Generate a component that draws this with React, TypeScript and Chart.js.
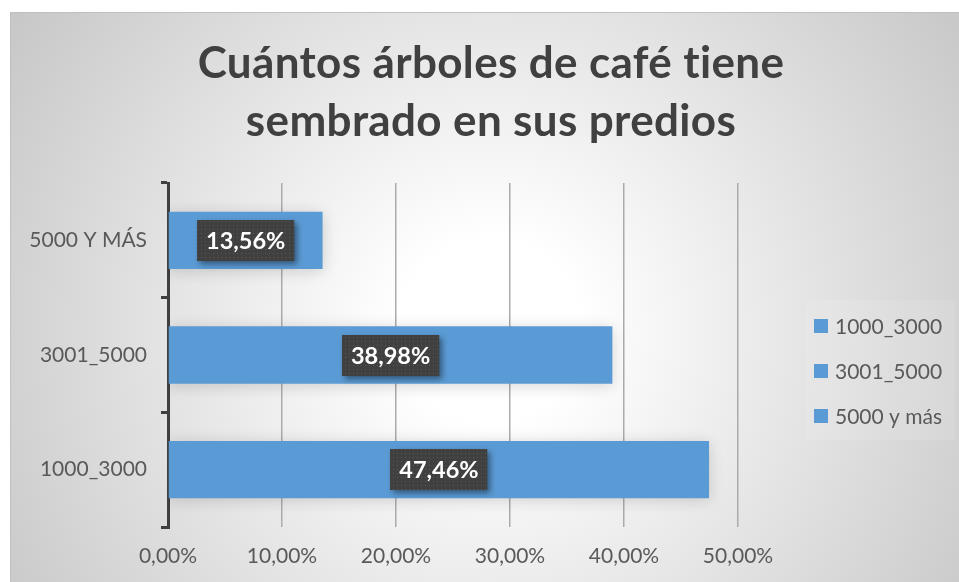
import React, { useEffect, useRef } from "react";
import { Chart, registerables } from "chart.js";

Chart.register(...registerables);

const titleLines = ["Cuántos árboles de café tiene", "sembrado en sus predios"];
const categories = ["5000 Y MÁS", "3001_5000", "1000_3000"];
const values = [13.56, 38.98, 47.46];
const legendLabels = ["1000_3000", "3001_5000", "5000 y más"];
const xTickLabels = ["0,00%", "10,00%", "20,00%", "30,00%", "40,00%", "50,00%"];

const BAR_COLOR = "#5b9bd5";
const TEXT_COLOR = "#595959";
const TITLE_COLOR = "#404040";
const FONT = "Lato, 'Open Sans', sans-serif";

const fmt = (v: number) => v.toFixed(2).replace(".", ",") + "%";

const backgroundPlugin = {
  id: "bgPlugin",
  beforeDraw(chart: any) {
    const ctx = chart.ctx as CanvasRenderingContext2D;
    const W = chart.width;
    const H = chart.height;
    ctx.save();
    ctx.fillStyle = "#ffffff";
    ctx.fillRect(0, 0, W, H);
    const g = ctx.createRadialGradient(490, 330, 0, 490, 330, 600);
    g.addColorStop(0, "#ffffff");
    g.addColorStop(0.15, "#ffffff");
    g.addColorStop(1, "#c4c4c4");
    ctx.fillStyle = g;
    ctx.fillRect(10, 12, W - 10, H - 12);
    ctx.strokeStyle = "#c0c0c0";
    ctx.lineWidth = 1;
    ctx.beginPath();
    ctx.moveTo(10.5, H);
    ctx.lineTo(10.5, 12.5);
    ctx.lineTo(W, 12.5);
    ctx.stroke();
    // title
    ctx.fillStyle = TITLE_COLOR;
    ctx.font = `bold 44px ${FONT}`;
    (ctx as any).letterSpacing = "0.35px";
    ctx.textAlign = "center";
    ctx.textBaseline = "alphabetic";
    ctx.fillText(titleLines[0], 491, 78);
    ctx.fillText(titleLines[1], 491, 136);
    (ctx as any).letterSpacing = "0px";
    // legend
    ctx.fillStyle = "rgba(255,255,255,0.1)";
    ctx.fillRect(806, 300, 149, 140);
    ctx.font = `21px ${FONT}`;
    ctx.textAlign = "left";
    ctx.textBaseline = "middle";
    legendLabels.forEach((lab, i) => {
      const cy = 326 + i * 45;
      ctx.fillStyle = BAR_COLOR;
      ctx.fillRect(814, cy - 7, 14, 14);
      ctx.fillStyle = TEXT_COLOR;
      ctx.fillText(lab, 835, cy + 1);
    });
    ctx.restore();
  },
};

let patternCanvas: HTMLCanvasElement | null = null;
const getPattern = (ctx: CanvasRenderingContext2D) => {
  if (!patternCanvas) {
    patternCanvas = document.createElement("canvas");
    patternCanvas.width = 4;
    patternCanvas.height = 4;
    const p = patternCanvas.getContext("2d")!;
    p.fillStyle = "rgba(255,255,255,0.13)";
    p.fillRect(1, 1, 1, 1);
  }
  return ctx.createPattern(patternCanvas, "repeat");
};

const barEffectsPlugin = {
  id: "barEffects",
  beforeDatasetsDraw(chart: any) {
    const ctx = chart.ctx as CanvasRenderingContext2D;
    ctx.save();
    ctx.shadowColor = "rgba(0,0,0,0.16)";
    ctx.shadowBlur = 14;
    ctx.shadowOffsetX = 0;
    ctx.shadowOffsetY = 2;
  },
  afterDatasetsDraw(chart: any) {
    const ctx = chart.ctx as CanvasRenderingContext2D;
    ctx.restore();
    const meta = chart.getDatasetMeta(0);
    ctx.save();
    ctx.font = `bold 23.5px ${FONT}`;
    meta.data.forEach((bar: any, i: number) => {
      const { x, y, base } = bar.getProps(["x", "y", "base"], true);
      const cx = (x + base) / 2;
      const text = fmt(values[i]);
      const w = ctx.measureText(text).width + 18;
      const h = 41;
      const left = Math.round(cx - w / 2);
      const top = Math.round(y - h / 2);
      ctx.save();
      ctx.shadowColor = "rgba(0,0,0,0.45)";
      ctx.shadowBlur = 6;
      ctx.shadowOffsetX = 3;
      ctx.shadowOffsetY = 3;
      ctx.fillStyle = "#404040";
      ctx.fillRect(left, top, w, h);
      ctx.restore();
      const pat = getPattern(ctx);
      if (pat) {
        ctx.fillStyle = pat;
        ctx.fillRect(left, top, w, h);
      }
      ctx.fillStyle = "#ffffff";
      ctx.textAlign = "center";
      ctx.textBaseline = "middle";
      ctx.fillText(text, cx, y + 1);
    });
    ctx.restore();
  },
};

export default function App() {
  const canvasRef = useRef<HTMLCanvasElement | null>(null);

  useEffect(() => {
    const canvas = canvasRef.current;
    if (!canvas) return;
    const chart = new Chart(canvas, {
      type: "bar",
      data: {
        labels: categories,
        datasets: [
          {
            data: values,
            backgroundColor: BAR_COLOR,
            borderWidth: 0,
            categoryPercentage: 1,
            barPercentage: 0.5,
          },
        ],
      },
      options: {
        indexAxis: "y",
        responsive: false,
        animation: false,
        devicePixelRatio: 1,
        layout: { padding: { top: 183, right: 221, bottom: 0, left: 0 } },
        plugins: {
          legend: { display: false },
          title: { display: false },
          tooltip: { enabled: false },
        },
        scales: {
          x: {
            min: 0,
            max: 50,
            afterFit(s: any) {
              s.height = 55;
            },
            ticks: {
              stepSize: 10,
              callback: (_v: any, i: number) => xTickLabels[i],
              font: { family: FONT, size: 21 },
              color: TEXT_COLOR,
              padding: 17,
              maxRotation: 0,
            },
            grid: {
              drawTicks: false,
              color: (c: any) => (c.tick && c.tick.value === 0 ? "rgba(0,0,0,0)" : "#ababab"),
              lineWidth: 1.5,
            },
            border: { display: false },
          },
          y: {
            z: 1,
            afterFit(s: any) {
              s.width = 168;
            },
            ticks: {
              font: { family: FONT, size: 21 },
              color: TEXT_COLOR,
              padding: 14,
            },
            grid: {
              offset: true,
              drawOnChartArea: false,
              color: "#404040",
              lineWidth: 3,
              tickLength: 7,
            },
            border: { display: true, color: "#404040", width: 3 },
          },
        },
      },
      plugins: [backgroundPlugin, barEffectsPlugin],
    } as any);
    return () => chart.destroy();
  }, []);

  return (
    <div style={{ position: "absolute", left: 0, top: 0, width: 959, height: 582 }}>
      <canvas ref={canvasRef} width={959} height={582} style={{ display: "block" }} />
    </div>
  );
}
